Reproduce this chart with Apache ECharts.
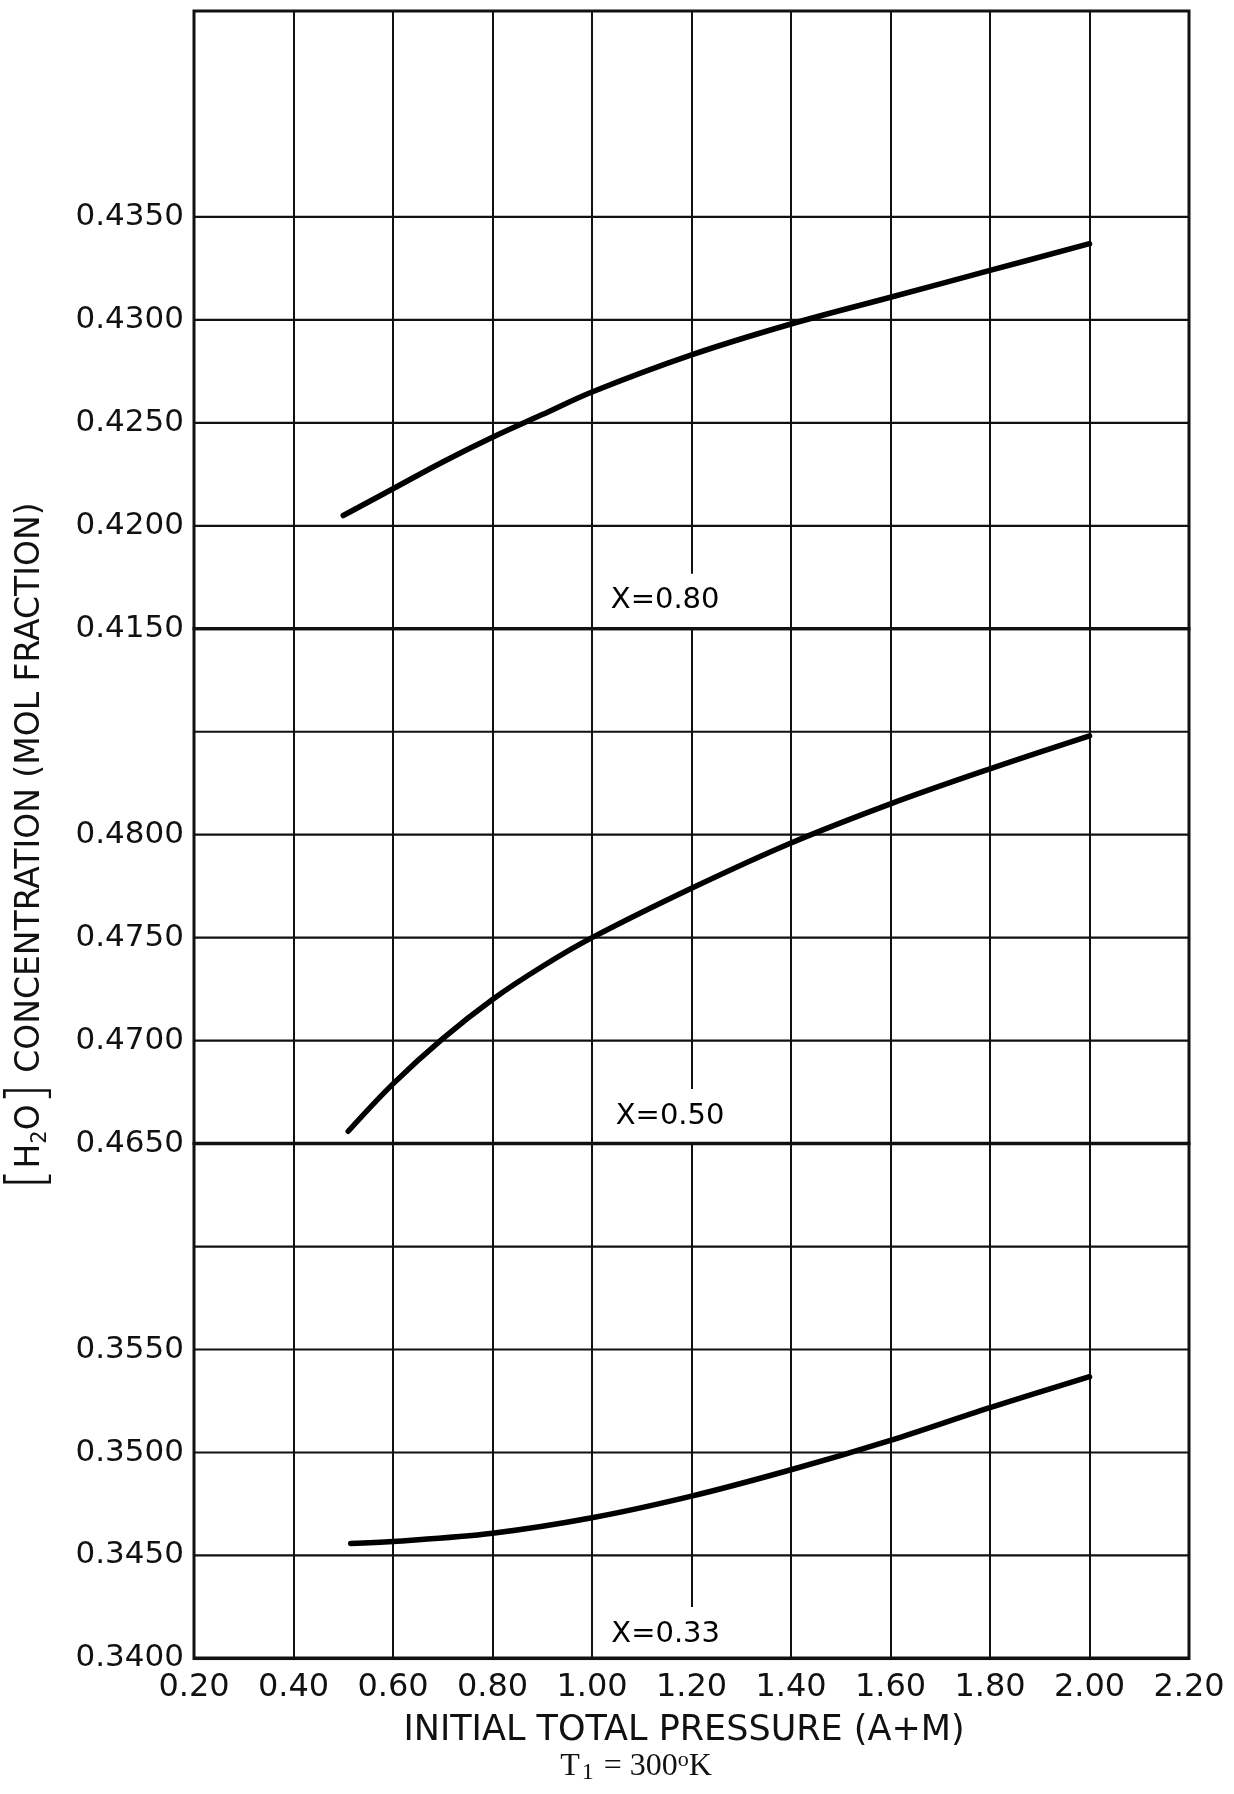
<!DOCTYPE html>
<html>
<head>
<meta charset="utf-8">
<script src="https://cdn.jsdelivr.net/npm/echarts@6/dist/echarts.min.js"></script>
<style>
  html, body { margin: 0; padding: 0; background: #fff; }
  #chart { width: 1234px; height: 1794px; }
</style>
</head>
<body>
<div id="chart"></div>
<script>
// ---------- DATA ----------
const xTicks = ['0.20','0.40','0.60','0.80','1.00','1.20','1.40','1.60','1.80','2.00','2.20'];
const xRange = [0.2, 2.2];

// X = 0.80 curve (top panel)
const pressure80 = [0.50, 0.60, 0.70, 0.80, 0.90, 1.00, 1.20, 1.40, 1.60, 1.80, 2.00];
const conc80     = [0.4205, 0.4218, 0.4231, 0.4243, 0.4254, 0.4265, 0.4283, 0.4298, 0.4311, 0.4324, 0.4337];

// X = 0.50 curve (middle panel)
const pressure50 = [0.51, 0.60, 0.70, 0.80, 0.90, 1.00, 1.20, 1.40, 1.60, 1.80, 2.00];
const conc50     = [0.4656, 0.4679, 0.4701, 0.4720, 0.4736, 0.4750, 0.4774, 0.4796, 0.4815, 0.4832, 0.4848];

// X = 0.33 curve (bottom panel)
const pressure33 = [0.515, 0.60, 0.80, 1.00, 1.20, 1.40, 1.60, 1.80, 2.00];
const conc33     = [0.34558, 0.34568, 0.34608, 0.34683, 0.34788, 0.34916, 0.35059, 0.35218, 0.35368];

// y ranges of the three stacked panels
const yRange80 = [0.4150, 0.4450];
const yRange50 = [0.4650, 0.4900];
const yRange33 = [0.3400, 0.3650];

// printed tick labels
const yLabels80 = ['0.4150','0.4200','0.4250','0.4300','0.4350'];
const yLabels50 = ['0.4650','0.4700','0.4750','0.4800'];
const yLabels33 = ['0.3400','0.3450','0.3500','0.3550'];

// ruled horizontal grid lines inside each panel
const hLines80 = [0.4200, 0.4250, 0.4300, 0.4350];
const hLines50 = [0.4700, 0.4750, 0.4800, 0.4850];
const hLines33 = [0.3450, 0.3500, 0.3550, 0.3600];

// curve labels
const curveNames  = ['X=0.80', 'X=0.50', 'X=0.33'];
const curveLabelX = [1.147, 1.157, 1.148];
const curveLabelY = [0.41636, 0.46634, 0.34118];

// ---------- LAYOUT ----------
const plotTop = 11, plotBottom = 1658.4, rows = 16;
const rowH = (plotBottom - plotTop) / rows;
const panelRows = [6, 5, 5];
const INK = '#111';
const fontSans = '"DejaVu Sans", "Noto Sans", sans-serif';

const panels = [
  { xs: pressure80, ys: conc80, range: yRange80, labels: yLabels80, lines: hLines80 },
  { xs: pressure50, ys: conc50, range: yRange50, labels: yLabels50, lines: hLines50 },
  { xs: pressure33, ys: conc33, range: yRange33, labels: yLabels33, lines: hLines33 }
];

function rule(i, v, width) {
  return {
    type: 'line', xAxisIndex: i, yAxisIndex: i, z: 4, silent: true,
    symbol: 'none', data: [[xRange[0], v], [xRange[1], v]],
    lineStyle: { color: INK, width: width }
  };
}

const grids = [], xAxes = [], yAxes = [], series = [];
let cursorY = plotTop;
panels.forEach((p, i) => {
  const h = panelRows[i] * rowH;
  grids.push({
    left: 194, right: 45, top: cursorY, height: h,
    show: true, borderColor: INK, borderWidth: 3, backgroundColor: '#fff'
  });
  cursorY += h;
  const isBottom = i === panels.length - 1;
  xAxes.push({
    type: 'value', gridIndex: i, min: xRange[0], max: xRange[1], interval: 0.2,
    axisLine: { show: false }, axisTick: { show: false },
    splitLine: { show: true, lineStyle: { color: INK, width: 2 } },
    axisLabel: {
      show: isBottom, margin: 13, color: INK, fontSize: 32, fontFamily: fontSans,
      formatter: v => { const s = v.toFixed(2); return xTicks.includes(s) ? s : ''; }
    }
  });
  yAxes.push({
    type: 'value', gridIndex: i, min: p.range[0], max: p.range[1], interval: 0.005,
    axisLine: { show: false }, axisTick: { show: false },
    splitLine: { show: false },
    axisLabel: {
      show: true, margin: 10, color: INK, fontSize: 31, fontFamily: fontSans,
      showMinLabel: true, showMaxLabel: true,
      formatter: v => { const s = v.toFixed(4); return p.labels.includes(s) ? s : ''; }
    }
  });
  // curve label with white box that interrupts the vertical rule beneath it
  series.push({
    type: 'scatter', xAxisIndex: i, yAxisIndex: i, z: 2, silent: true,
    symbolSize: 0, itemStyle: { color: INK },
    data: [[curveLabelX[i], curveLabelY[i]]],
    label: {
      show: true, position: 'inside', formatter: curveNames[i],
      color: '#000', opacity: 1, fontSize: 29, fontFamily: fontSans, lineHeight: 29,
      backgroundColor: '#fff', padding: [12, 3, 13, 3]
    }
  });
  // horizontal rules
  p.lines.forEach(v => series.push(rule(i, v, 2.2)));
  series.push(rule(i, p.range[0], 3.6));
  // the curve
  series.push({
    type: 'line', xAxisIndex: i, yAxisIndex: i, z: 5,
    data: p.xs.map((x, k) => [x, p.ys[k]]),
    smooth: 0.35, symbol: 'none', silent: true,
    lineStyle: { color: '#000', width: 5.5, cap: 'round' }
  });
});

const chart = echarts.init(document.getElementById('chart'), null, { renderer: 'canvas' });
chart.setOption({
  backgroundColor: '#fff',
  animation: false,
  grid: grids,
  xAxis: xAxes,
  yAxis: yAxes,
  series: series,
  graphic: [
    {
      type: 'text', x: 30, y: 846, rotation: Math.PI / 2,
      style: {
        text: '{br|[}{t|H}{sub|2}{t|O}{br|]}{t| CONCENTRATION (MOL FRACTION)}',
        align: 'center', verticalAlign: 'middle', fill: INK,
        rich: {
          t:   { fontSize: 33, fontFamily: fontSans, fill: INK, lineHeight: 50, verticalAlign: 'middle' },
          sub: { fontSize: 21, fontFamily: fontSans, fill: INK, lineHeight: 21, verticalAlign: 'bottom', padding: [0, 0, 4, 0] },
          br:  { fontSize: 54, fontFamily: fontSans, fontWeight: 'lighter', fill: INK, lineHeight: 50, verticalAlign: 'middle' }
        }
      }
    },
    {
      type: 'text', x: 684, y: 1731,
      style: {
        text: 'INITIAL TOTAL PRESSURE (A+M)', align: 'center', verticalAlign: 'middle',
        fontSize: 35, fontFamily: fontSans, fill: INK
      }
    },
    {
      type: 'text', x: 636, y: 1767,
      style: {
        text: '{a|T}{s|1}{a| = 300}{o|o}{a|K}', align: 'center', verticalAlign: 'middle',
        rich: {
          a: { fontSize: 32, fontFamily: '"Liberation Serif", "DejaVu Serif", serif', fill: INK, lineHeight: 36, verticalAlign: 'middle' },
          s: { fontSize: 24, fontFamily: '"Liberation Serif", serif', fill: INK, lineHeight: 22, verticalAlign: 'bottom', padding: [0, 2, 0, 2] },
          o: { fontSize: 22, fontFamily: '"Liberation Serif", serif', fill: INK, lineHeight: 22, verticalAlign: 'top' }
        }
      }
    }
  ]
});
</script>
</body>
</html>
